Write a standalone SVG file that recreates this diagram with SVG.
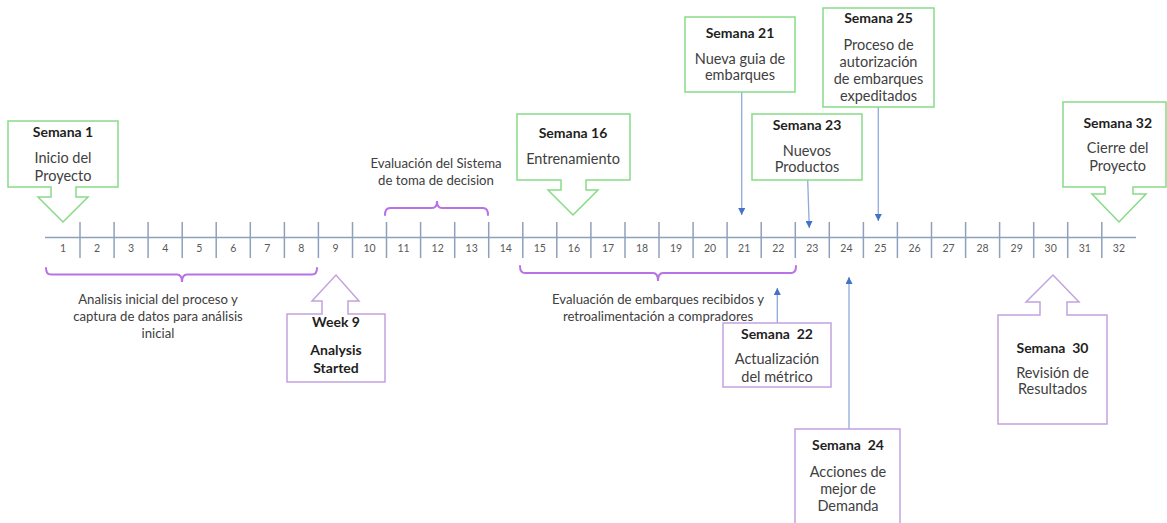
<svg xmlns="http://www.w3.org/2000/svg" width="1167" height="523" viewBox="0 0 1167 523">
  <defs>
    <style>
      .bg { fill: #ffffff; }
      .green { fill: #ffffff; stroke: #86DB86; stroke-width: 1.5; }
      .purple { fill: #ffffff; stroke: #C2A3E0; stroke-width: 1.5; }
      .axis { stroke: #8FA0BC; stroke-width: 1.5; fill: none; }
      .brace { stroke: #B772E6; stroke-width: 2; fill: none; stroke-linecap: round; }
      .ptr { stroke: #8FAADC; stroke-width: 1.3; fill: none; }
      text { font-family: Lato, "Liberation Sans", sans-serif; text-anchor: middle; }
      .title { font-size: 14px; font-weight: bold; fill: #1F1F1F; }
      .body { font-size: 14.5px; fill: #404040; }
      .note { font-size: 13.2px; fill: #404040; }
      .wk { font-size: 10.5px; fill: #595959; }
    </style>
    <marker id="tip" viewBox="0 0 10 10" refX="10" refY="5" markerWidth="7" markerHeight="7" markerUnits="userSpaceOnUse" orient="auto">
      <path d="M0,0 L10,5 L0,10 Z" fill="#4472C4"/>
    </marker>
  </defs>

  <rect class="bg" x="0" y="0" width="1167" height="523"/>

  <!-- timeline axis -->
  <g id="axis">
    <line class="axis" x1="45" y1="237.5" x2="1136" y2="237.5"/>
    <g class="axis">
      <line x1="80" y1="222" x2="80" y2="258"/>
      <line x1="114.1" y1="222" x2="114.1" y2="258"/>
      <line x1="148.1" y1="222" x2="148.1" y2="258"/>
      <line x1="182.2" y1="222" x2="182.2" y2="258"/>
      <line x1="216.2" y1="222" x2="216.2" y2="258"/>
      <line x1="250.3" y1="222" x2="250.3" y2="258"/>
      <line x1="284.4" y1="222" x2="284.4" y2="258"/>
      <line x1="318.4" y1="222" x2="318.4" y2="258"/>
      <line x1="352.5" y1="222" x2="352.5" y2="258"/>
      <line x1="386.5" y1="222" x2="386.5" y2="258"/>
      <line x1="420.6" y1="222" x2="420.6" y2="258"/>
      <line x1="454.7" y1="222" x2="454.7" y2="258"/>
      <line x1="488.7" y1="222" x2="488.7" y2="258"/>
      <line x1="522.8" y1="222" x2="522.8" y2="258"/>
      <line x1="556.8" y1="222" x2="556.8" y2="258"/>
      <line x1="590.9" y1="222" x2="590.9" y2="258"/>
      <line x1="625" y1="222" x2="625" y2="258"/>
      <line x1="659" y1="222" x2="659" y2="258"/>
      <line x1="693.1" y1="222" x2="693.1" y2="258"/>
      <line x1="727.1" y1="222" x2="727.1" y2="258"/>
      <line x1="761.2" y1="222" x2="761.2" y2="258"/>
      <line x1="795.3" y1="222" x2="795.3" y2="258"/>
      <line x1="829.3" y1="222" x2="829.3" y2="258"/>
      <line x1="863.4" y1="222" x2="863.4" y2="258"/>
      <line x1="897.4" y1="222" x2="897.4" y2="258"/>
      <line x1="931.5" y1="222" x2="931.5" y2="258"/>
      <line x1="965.6" y1="222" x2="965.6" y2="258"/>
      <line x1="999.6" y1="222" x2="999.6" y2="258"/>
      <line x1="1033.7" y1="222" x2="1033.7" y2="258"/>
      <line x1="1067.7" y1="222" x2="1067.7" y2="258"/>
      <line x1="1101.8" y1="222" x2="1101.8" y2="258"/>
    </g>
    <g class="wk">
      <text x="63" y="252">1</text>
      <text x="97.1" y="252">2</text>
      <text x="131.1" y="252">3</text>
      <text x="165.2" y="252">4</text>
      <text x="199.2" y="252">5</text>
      <text x="233.3" y="252">6</text>
      <text x="267.4" y="252">7</text>
      <text x="301.4" y="252">8</text>
      <text x="335.5" y="252">9</text>
      <text x="369.5" y="252">10</text>
      <text x="403.6" y="252">11</text>
      <text x="437.7" y="252">12</text>
      <text x="471.7" y="252">13</text>
      <text x="505.8" y="252">14</text>
      <text x="539.8" y="252">15</text>
      <text x="573.9" y="252">16</text>
      <text x="608" y="252">17</text>
      <text x="642" y="252">18</text>
      <text x="676.1" y="252">19</text>
      <text x="710.1" y="252">20</text>
      <text x="744.2" y="252">21</text>
      <text x="778.3" y="252">22</text>
      <text x="812.3" y="252">23</text>
      <text x="846.4" y="252">24</text>
      <text x="880.4" y="252">25</text>
      <text x="914.5" y="252">26</text>
      <text x="948.6" y="252">27</text>
      <text x="982.6" y="252">28</text>
      <text x="1016.7" y="252">29</text>
      <text x="1050.7" y="252">30</text>
      <text x="1084.8" y="252">31</text>
      <text x="1118.9" y="252">32</text>
    </g>
  </g>

  <!-- period braces with their notes -->
  <g id="phase-analisis">
    <path class="brace" d="M46,268 Q46,274.5 51,274.5 H177 Q182,274.5 182,282 Q182,274.5 187,274.5 H312 Q317,274.5 317,268"/>
    <text class="note" x="158" y="304">Analisis inicial del proceso y</text>
    <text class="note" x="158" y="321">captura de datos para análisis</text>
    <text class="note" x="158" y="338">inicial</text>
  </g>
  <g id="phase-evaluacion-sistema">
    <path class="brace" d="M385,215 Q385,208 390,208 H432 Q437,208 437,201 Q437,208 442,208 H483 Q488,208 488,215"/>
    <text class="note" x="436" y="167.5">Evaluación del Sistema</text>
    <text class="note" x="436" y="184.5">de toma de decision</text>
  </g>
  <g id="phase-evaluacion-embarques">
    <path class="brace" d="M520,266 Q520,273 525,273 H653 Q658,273 658,281 Q658,273 663,273 H791 Q796,273 796,266"/>
    <text class="note" x="658" y="304">Evaluación de embarques recibidos y</text>
    <text class="note" x="658" y="320.5">retroalimentación a compradores</text>
  </g>

  <!-- connectors from milestone boxes to the axis -->
  <g id="connectors">
    <line class="ptr" x1="741.7" y1="92" x2="741.7" y2="215" marker-end="url(#tip)"/>
    <line class="ptr" x1="878.3" y1="107" x2="878.3" y2="221" marker-end="url(#tip)"/>
    <line class="ptr" x1="807.7" y1="180" x2="809.3" y2="228" marker-end="url(#tip)"/>
    <line class="ptr" x1="777.3" y1="323" x2="777.3" y2="288" marker-end="url(#tip)"/>
    <line class="ptr" x1="849" y1="429" x2="849" y2="277" marker-end="url(#tip)"/>
  </g>

  <!-- milestone callouts -->
  <g id="semana-1">
    <path class="green" d="M8,121 H118 V187 H76 V197 H88 L63,222 L38,197 H51 V187 H8 Z"/>
    <text class="title" x="63" y="136.5">Semana 1</text>
    <text class="body" x="63" y="163.3">Inicio del</text>
    <text class="body" x="63" y="180.7">Proyecto</text>
  </g>

  <g id="week-9">
    <path class="purple" d="M287,382 H385 V314 H348 V301 H359 L336,275 L312,301 H322 V314 H287 Z"/>
    <text class="title" x="336" y="327">Week 9</text>
    <text class="title" x="336" y="355">Analysis</text>
    <text class="title" x="336" y="372.5">Started</text>
  </g>

  <g id="semana-16">
    <path class="green" d="M517,114 H630 V180 H586 V190 H598 L573,215 L548,190 H561 V180 H517 Z"/>
    <text class="title" x="573" y="137.5">Semana 16</text>
    <text class="body" x="573" y="164.3">Entrenamiento</text>
  </g>

  <g id="semana-21">
    <rect class="green" x="685" y="17" width="110" height="75"/>
    <text class="title" x="740" y="37.5">Semana 21</text>
    <text class="body" x="740" y="64.3">Nueva guia de</text>
    <text class="body" x="740" y="80">embarques</text>
  </g>

  <g id="semana-22">
    <rect class="purple" x="723" y="323" width="108" height="64"/>
    <text class="title" x="777" y="339" xml:space="preserve">Semana  22</text>
    <text class="body" x="777" y="364.3">Actualización</text>
    <text class="body" x="777" y="381.7">del métrico</text>
  </g>

  <g id="semana-23">
    <rect class="green" x="752" y="114" width="110" height="66"/>
    <text class="title" x="807" y="130">Semana 23</text>
    <text class="body" x="807" y="156">Nuevos</text>
    <text class="body" x="807" y="171.7">Productos</text>
  </g>

  <g id="semana-24">
    <rect class="purple" x="795" y="429" width="105" height="110"/>
    <text class="title" x="848" y="449.5" xml:space="preserve">Semana  24</text>
    <text class="body" x="848" y="477">Acciones de</text>
    <text class="body" x="848" y="494">mejor de</text>
    <text class="body" x="848" y="511">Demanda</text>
  </g>

  <g id="semana-25">
    <rect class="green" x="823" y="8" width="111" height="99"/>
    <text class="title" x="878.5" y="23">Semana 25</text>
    <text class="body" x="878.5" y="50">Proceso de</text>
    <text class="body" x="878.5" y="66.7">autorización</text>
    <text class="body" x="878.5" y="84">de embarques</text>
    <text class="body" x="878.5" y="100.7">expeditados</text>
  </g>

  <g id="semana-30">
    <path class="purple" d="M998,424 H1107 V315 H1067 V302 H1079 L1053,275 L1026,302 H1040 V315 H998 Z"/>
    <text class="title" x="1052.5" y="353" xml:space="preserve">Semana  30</text>
    <text class="body" x="1052.5" y="378.3">Revisión de</text>
    <text class="body" x="1052.5" y="394.3">Resultados</text>
  </g>

  <g id="semana-32">
    <path class="green" d="M1063,102 H1166 V187 H1133 V194 H1146 L1119,222 L1092,194 H1105 V187 H1063 Z"/>
    <text class="title" x="1117.7" y="127.5">Semana 32</text>
    <text class="body" x="1117.7" y="153.3">Cierre del</text>
    <text class="body" x="1117.7" y="170.7">Proyecto</text>
  </g>
</svg>
